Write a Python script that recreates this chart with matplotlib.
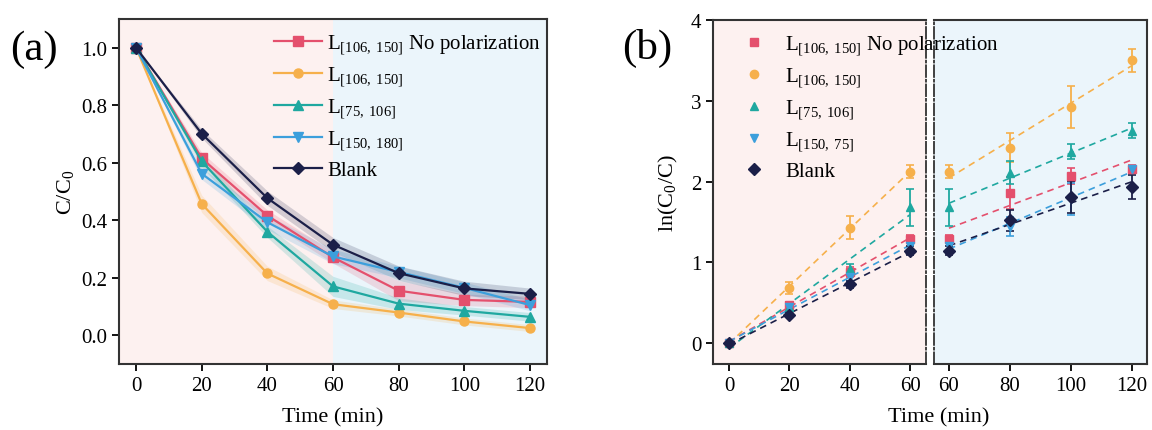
import matplotlib.pyplot as plt
from matplotlib.lines import Line2D
import numpy as np

plt.rcParams['font.family'] = ['Liberation Serif', 'DejaVu Serif']
plt.rcParams['mathtext.fontset'] = 'custom'
plt.rcParams['mathtext.rm'] = 'Liberation Serif'
plt.rcParams['mathtext.it'] = 'Liberation Serif:italic'
plt.rcParams['font.size'] = 15

# ---- data ----
time = [0, 20, 40, 60, 80, 100, 120]
labels_a = [r'L$_{[106,\ 150]}$ No polarization', r'L$_{[106,\ 150]}$',
            r'L$_{[75,\ 106]}$', r'L$_{[150,\ 180]}$', 'Blank']
labels_b = [r'L$_{[106,\ 150]}$ No polarization', r'L$_{[106,\ 150]}$',
            r'L$_{[75,\ 106]}$', r'L$_{[150,\ 75]}$', 'Blank']

cc0_nopol = [1.0, 0.615, 0.416, 0.271, 0.155, 0.123, 0.116]
cc0_106 = [1.0, 0.457, 0.215, 0.108, 0.079, 0.048, 0.025]
cc0_75 = [1.0, 0.605, 0.360, 0.170, 0.110, 0.085, 0.064]
cc0_150 = [1.0, 0.562, 0.393, 0.274, 0.220, 0.165, 0.105]
cc0_blank = [1.0, 0.701, 0.477, 0.315, 0.216, 0.163, 0.144]
band_nopol = [0.0, 0.02, 0.02, 0.02, 0.035, 0.02, 0.02]
band_106 = [0.0, 0.03, 0.025, 0.015, 0.012, 0.012, 0.012]
band_75 = [0.0, 0.02, 0.02, 0.035, 0.02, 0.015, 0.015]
band_150 = [0.0, 0.02, 0.025, 0.025, 0.02, 0.02, 0.02]
band_blank = [0.0, 0.015, 0.025, 0.025, 0.025, 0.025, 0.02]

# ln(C0/C), split at 60 min
t_left = [0, 20, 40, 60]
t_right = [60, 80, 100, 120]
ln_nopol = [0.0, 0.47, 0.88, 1.29, 1.86, 2.07, 2.16]
ln_106 = [0.0, 0.68, 1.43, 2.12, 2.42, 2.92, 3.50]
ln_75 = [0.0, 0.45, 0.92, 1.68, 2.11, 2.37, 2.63]
ln_150 = [0.0, 0.44, 0.82, 1.20, 1.44, 1.78, 2.15]
ln_blank = [0.0, 0.35, 0.725, 1.145, 1.52, 1.81, 1.93]
err_nopol = [0.02, 0.04, 0.06, 0.05, 0.20, 0.10, 0.05]
err_106 = [0.02, 0.07, 0.14, 0.08, 0.18, 0.26, 0.14]
err_75 = [0.02, 0.04, 0.06, 0.23, 0.14, 0.09, 0.09]
err_150 = [0.02, 0.04, 0.05, 0.08, 0.12, 0.20, 0.04]
err_blank = [0.02, 0.03, 0.04, 0.06, 0.13, 0.20, 0.15]

colors = ['#e4506d', '#f6b04b', '#1fa8a0', '#3c9fdc', '#1b1f48']
markers = ['s', 'o', '^', 'v', 'D']
pink_bg = '#fdf1f0'
blue_bg = '#ebf5fb'

cc_series = [cc0_nopol, cc0_106, cc0_75, cc0_150, cc0_blank]
band_series = [band_nopol, band_106, band_75, band_150, band_blank]
ln_series = [ln_nopol, ln_106, ln_75, ln_150, ln_blank]
err_series = [err_nopol, err_106, err_75, err_150, err_blank]

W, H = 1152, 431
fig = plt.figure(figsize=(W/100, H/100), dpi=100)

def box(x0, x1, y0, y1):
    return [x0/W, 1-y1/H, (x1-x0)/W, (y1-y0)/H]

def style_axes(ax):
    for s in ax.spines.values():
        s.set_linewidth(1.5)
        s.set_color('#333333')
    ax.tick_params(direction='out', length=5, width=1.3, labelsize=15)

# ---- panel (a) ----
ax = fig.add_axes(box(119, 547, 20, 365))
ax.axvspan(-10, 60, color=pink_bg, zorder=0, lw=0)
ax.axvspan(60, 130, color=blue_bg, zorder=0, lw=0)
for i in range(5):
    y = np.array(cc_series[i])
    b = np.array(band_series[i])
    ax.fill_between(time, y-b, y+b, color=colors[i], alpha=0.18, lw=0, zorder=1)
for i in range(5):
    ax.plot(time, cc_series[i], color=colors[i], marker=markers[i], ms=6.5 if i != 4 else 6,
            lw=1.6, label=labels_a[i], zorder=3)
ax.set_xlim(-5.2, 125.2)
ax.set_ylim(-0.1, 1.1)
ax.set_xticks(time)
ax.set_yticks([0.0, 0.2, 0.4, 0.6, 0.8, 1.0])
ax.set_yticklabels(['0.0', '0.2', '0.4', '0.6', '0.8', '1.0'])
style_axes(ax)
ax.set_ylabel(r'C/C$_0$', fontsize=16, labelpad=4)
fig.text(333/W, 1-418/H, 'Time (min)', fontsize=16, ha='center', va='center')
ax.legend(loc='upper right', frameon=False, fontsize=15, handlelength=2.3,
          handletextpad=0.25, labelspacing=0.42, borderaxespad=0.0,
          bbox_to_anchor=(1.005, 0.985))
fig.text(10/W, 1-50/H, '(a)', fontsize=31, va='center', ha='left')

# ---- panel (b) ----
ax1 = fig.add_axes(box(713, 926, 21, 365))
ax2 = fig.add_axes(box(934, 1147, 21, 365))
ax1.set_zorder(3)
ax1.set_facecolor(pink_bg)
ax2.set_facecolor(blue_bg)
handles = []
for i in range(5):
    y = np.array(ln_series[i])
    e = np.array(err_series[i])
    ax1.errorbar(t_left, y[:4], yerr=e[:4], fmt=markers[i], color=colors[i], ms=6,
                 capsize=3, elinewidth=1.3, capthick=1.2, zorder=3)
    ax2.errorbar(t_right, y[3:], yerr=e[3:], fmt=markers[i], color=colors[i], ms=6,
                 capsize=3, elinewidth=1.3, capthick=1.2, zorder=3)
    # linear fits for each stage
    k1, b1 = np.polyfit(t_left, y[:4], 1)
    k2, b2 = np.polyfit(t_right, y[3:], 1)
    xl = np.array([0, 60])
    xr = np.array([60, 120])
    ax1.plot(xl, k1*xl+b1, ls=(0, (4, 3)), color=colors[i], lw=1.2, zorder=2)
    ax2.plot(xr, k2*xr+b2, ls=(0, (4, 3)), color=colors[i], lw=1.2, zorder=2)
    handles.append(Line2D([], [], ls='none', marker=markers[i], color=colors[i], ms=6))

ax1.set_xlim(-5.3, 65.3)
ax2.set_xlim(55.1, 124.9)
for a in (ax1, ax2):
    a.set_ylim(-0.26, 4.0)
    style_axes(a)
ax1.set_xticks([0, 20, 40, 60])
ax2.set_xticks([60, 80, 100, 120])
ax1.set_yticks([0, 1, 2, 3, 4])
ax2.set_yticks([])
ax1.spines['right'].set_linestyle('-.')
ax1.spines['right'].set_linewidth(1.3)
ax2.spines['left'].set_linestyle('-.')
ax2.spines['left'].set_linewidth(1.3)
ax1.set_ylabel(r'ln(C$_0$/C)', fontsize=16, labelpad=8)
fig.text(939/W, 1-418/H, 'Time (min)', fontsize=16, ha='center', va='center')
ax1.legend(handles, labels_b, loc='upper left', frameon=False, fontsize=15,
           handlelength=1.0, handletextpad=0.98, labelspacing=0.42, borderaxespad=0.0,
           bbox_to_anchor=(0.106, 0.985))
fig.text(622/W, 1-48/H, '(b)', fontsize=31, va='center', ha='left')

plt.savefig('out.png', dpi=100)
